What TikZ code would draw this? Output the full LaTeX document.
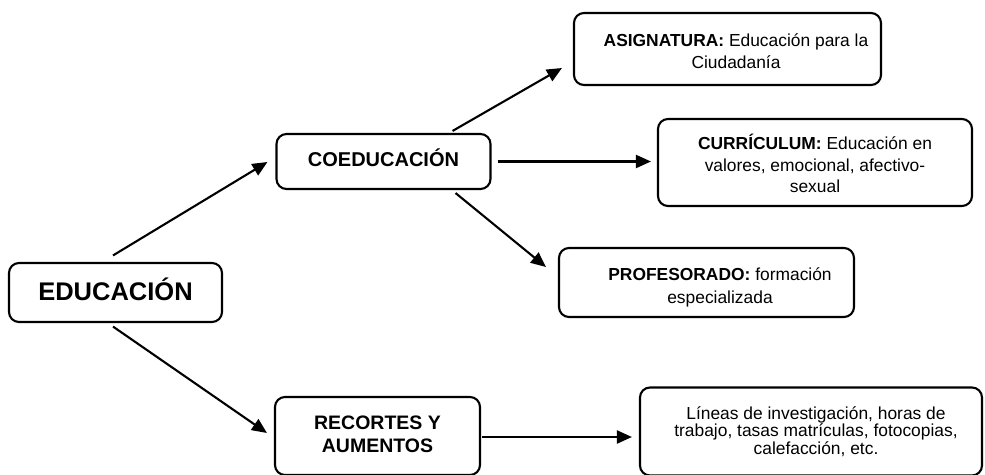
\documentclass[tikz,border=0pt]{standalone}
\usepackage{fontspec}
\setmainfont{Liberation Sans}
\usetikzlibrary{arrows.meta,calc}
\newcommand{\padtab}[2]{\begin{tabular}{@{\hspace{#1}}c@{}}#2\end{tabular}}
\newcommand{\movedown}[2]{\raisebox{0pt}[\dimexpr\height+#1\relax][\depth]{#2}}
\newcommand{\moveup}[2]{\raisebox{0pt}[\height][\dimexpr\depth+#1\relax]{#2}}
\begin{document}
\begin{tikzpicture}[x=1pt,y=-1pt,
  box/.style={draw=black, line width=2.1pt, rounded corners=10pt, inner sep=0pt, align=center},
  arr/.style={draw=black, line width=2.1pt, -{Triangle[length=15pt,width=13pt]}},
  fsmall/.style={font=\fontsize{17.4}{#1}\selectfont}
]
\useasboundingbox (0,0) rectangle (985,474);
\clip (0,0) rectangle (985,474);
\fill[white] (0,0) rectangle (985,474);

\node[box, minimum width=213pt, minimum height=59pt, font=\fontsize{25.5}{28}\selectfont\bfseries]
  (edu) at (115.5,292.5) {\moveup{6pt}{EDUCACIÓN}};
\node[box, minimum width=214pt, minimum height=55pt, font=\fontsize{20}{23}\selectfont\bfseries]
  (coed) at (383.5,161.5) {\moveup{8pt}{COEDUCACIÓN}};
\node[box, minimum width=205pt, minimum height=78pt, font=\fontsize{19.5}{24}\selectfont\bfseries]
  (rec) at (377.5,436) {\padtab{0pt}{RECORTES Y\\[-1pt] AUMENTOS}};

\node[box, minimum width=307pt, minimum height=72pt, fsmall=22.5]
  (asig) at (727.5,49) {\movedown{8pt}{\padtab{17pt}{\textbf{ASIGNATURA:} Educación para la\\ Ciudadanía}}};
\node[box, minimum width=314pt, minimum height=87pt, fsmall=21.5]
  (curr) at (815,162.5) {\movedown{9pt}{\padtab{0pt}{\textbf{CURRÍCULUM:} Educación en\\ valores, emocional, afectivo-\\ sexual}}};
\node[box, minimum width=295pt, minimum height=69pt, fsmall=23]
  (prof) at (706.5,282.5) {\movedown{10pt}{\padtab{27pt}{\textbf{PROFESORADO:} formación\\ especializada}}};
\node[box, minimum width=342pt, minimum height=88pt, fsmall=16.8]
  (lin) at (811,431.5) {\movedown{3pt}{\padtab{10pt}{Líneas de investigación, horas de\\ trabajo, tasas matrículas, fotocopias,\\ calefacción, etc.}}};

\draw[arr] ($(edu.north)+(-2.5,-6.5)$) -- ($(coed.west)+(-8,0.5)$);
\draw[arr] ($(edu.south)+(-2.5,3.5)$) -- ($(rec.west)+(-7,-3)$);
\draw[arr] ($(coed.north east)+(-39,-2)$) -- ($(asig.west)+(-11,19)$);
\draw[arr] ($(coed.east)+(6,0)$) -- ($(curr.west)+(-6,-1)$);
\draw[arr] ($(coed.south east)+(-36,3)$) -- ($(prof.west)+(-12,-15.5)$);
\draw[arr] ($(rec.east)+(1,1)$) -- ($(lin.west)+(-7,5.5)$);
\end{tikzpicture}
\end{document}
